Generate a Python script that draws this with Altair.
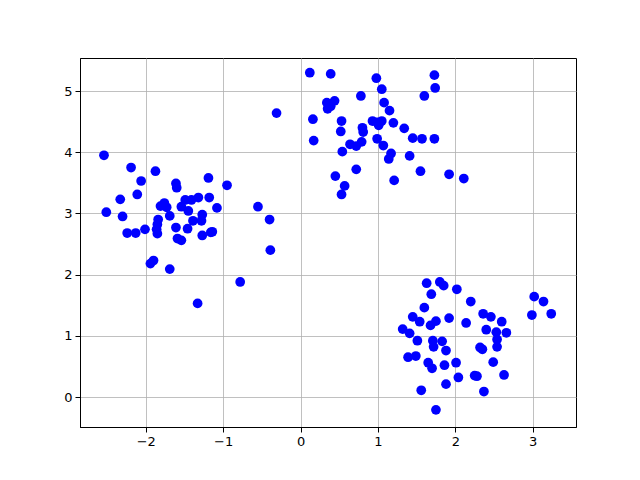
import altair as alt
import pandas as pd

xs = [
    # cluster A
    -2.54, -2.19, -1.875, -2.06, -1.61, -1.60, -1.19, -0.95, -2.11, -2.33,
    -1.76, -1.81, -1.73, -1.49, -1.41, -1.32, -1.18, -1.54, -1.45, -1.08,
    -0.55, -2.51, -2.30, -1.69, -1.27, -0.40, -1.84, -1.85, -1.39, -1.28,
    -1.61, -1.46, -2.24, -2.13, -2.01, -1.86, -1.85, -1.27, -1.16, -1.14,
    -1.59, -1.54, -0.39, -1.94, -1.90, -1.69, -0.78, -1.33,
    # cluster B
    0.12, 0.39, 0.98, 1.73, 1.05, 1.74, 1.60, 0.78, 0.34, 0.44,
    0.35, 0.39, 1.08, 1.15, -0.31, 0.16, 0.53, 0.93, 0.99, 1.05,
    1.01, 1.20, 1.34, 0.80, 0.81, 0.52, 1.45, 1.57, 1.73, 0.17,
    0.99, 1.07, 0.79, 0.64, 0.72, 0.54, 1.17, 1.14, 1.41, 0.72,
    1.55, 0.45, 1.21, 1.92, 2.11, 0.57, 0.53,
    # cluster C
    1.63, 1.80, 1.85, 2.02, 1.69, 2.20, 3.02, 3.14, 3.24, 2.99,
    1.60, 1.45, 1.54, 1.75, 1.68, 1.92, 2.14, 2.36, 2.46, 2.60,
    1.32, 1.41, 2.40, 2.53, 2.66, 1.51, 1.71, 1.83, 1.72, 1.88,
    2.54, 2.54, 2.32, 2.35, 1.39, 1.49, 1.65, 1.70, 1.86, 2.01,
    2.49, 2.04, 2.25, 2.28, 2.63, 1.88, 1.56, 2.37, 1.75,
]
ys = [
    3.95, 3.75, 3.69, 3.53, 3.49, 3.42, 3.58, 3.46, 3.31, 3.23,
    3.17, 3.12, 3.10, 3.22, 3.22, 3.26, 3.26, 3.11, 3.04, 3.09,
    3.11, 3.02, 2.95, 2.96, 2.98, 2.90, 2.90, 2.82, 2.88, 2.88,
    2.77, 2.75, 2.68, 2.68, 2.74, 2.74, 2.67, 2.64, 2.69, 2.70,
    2.59, 2.56, 2.40, 2.18, 2.23, 2.09, 1.88, 1.53,
    5.30, 5.28, 5.21, 5.26, 5.03, 5.05, 4.92, 4.92, 4.81, 4.84,
    4.71, 4.75, 4.81, 4.68, 4.64, 4.54, 4.51, 4.51, 4.49, 4.51,
    4.44, 4.48, 4.39, 4.40, 4.33, 4.34, 4.23, 4.22, 4.22, 4.19,
    4.22, 4.11, 4.17, 4.13, 4.10, 4.01, 3.98, 3.89, 3.94, 3.72,
    3.69, 3.61, 3.54, 3.64, 3.57, 3.45, 3.31,
    1.86, 1.88, 1.82, 1.76, 1.68, 1.56, 1.64, 1.56, 1.36, 1.34,
    1.46, 1.31, 1.23, 1.24, 1.17, 1.29, 1.21, 1.36, 1.31, 1.23,
    1.11, 1.04, 1.10, 1.06, 1.05, 0.92, 0.92, 0.91, 0.82, 0.76,
    0.94, 0.82, 0.81, 0.78, 0.65, 0.67, 0.56, 0.47, 0.52, 0.56,
    0.57, 0.32, 0.35, 0.34, 0.36, 0.21, 0.11, 0.09, -0.21,
]

x_ticks = [-2, -1, 0, 1, 2, 3]
y_ticks = [0, 1, 2, 3, 4, 5]

df = pd.DataFrame({"x": xs, "y": ys})

chart = alt.Chart(df).mark_circle(size=95, color="#0000ff", opacity=1).encode(
    x=alt.X("x:Q", scale=alt.Scale(domain=[-2.85, 3.56], nice=False, zero=False),
            axis=alt.Axis(values=x_ticks, title=None, format="d")),
    y=alt.Y("y:Q", scale=alt.Scale(domain=[-0.49, 5.54], nice=False, zero=False),
            axis=alt.Axis(values=y_ticks, title=None, format="d")),
).properties(
    width=496, height=369,
    autosize=alt.AutoSizeParams(type="none"),
    padding={"left": 72, "top": 50, "right": 56, "bottom": 45},
).configure_view(
    stroke="black", strokeWidth=1
).configure_axis(
    domainColor="black", tickColor="black", tickSize=5,
    labelFont="DejaVu Sans", labelFontSize=13, labelColor="black",
    labelPadding=3, gridColor="#b0b0b0", gridWidth=0.8, grid=True,
)

chart.save("out.html", embed_options={"renderer": "svg", "actions": False})
